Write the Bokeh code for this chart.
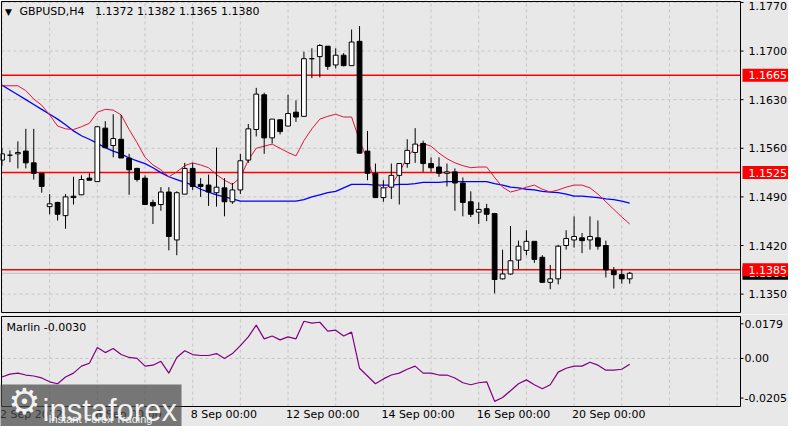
from bokeh.plotting import figure
from bokeh.layouts import column
from bokeh.models import Range1d
from bokeh.core.properties import value
from bokeh.embed import file_html
from bokeh.resources import INLINE

# ---------------- data ----------------
symbol_title = "GBPUSD,H4\u00a0\u00a0 1.1372 1.1382 1.1365 1.1380"
marlin_title = "Marlin -0.0030"

opens = [1.1543, 1.1550, 1.1552, 1.1556, 1.1539, 1.1524, 1.1476, 1.1482, 1.1463, 1.1491,
         1.1493, 1.1517, 1.1512, 1.1589, 1.1564, 1.1573, 1.1546, 1.1531, 1.1517, 1.1482,
         1.1479, 1.1497, 1.1428, 1.1494, 1.1531, 1.1508, 1.1507, 1.1496, 1.1503, 1.1483,
         1.1500, 1.1543, 1.1587, 1.1637, 1.1575, 1.1601, 1.1592, 1.1612, 1.1606, 1.1689,
         1.1692, 1.1707, 1.1680, 1.1694, 1.1679, 1.1714, 1.1556, 1.1524, 1.1489, 1.1504,
         1.1521, 1.1538, 1.1554, 1.1567, 1.1538, 1.1533, 1.1524, 1.1526, 1.1510, 1.1483,
         1.1468, 1.1473, 1.1466, 1.1372, 1.1379, 1.1399, 1.1413, 1.1426, 1.1403, 1.1367,
         1.1372, 1.1420, 1.1428, 1.1431, 1.1428, 1.1431, 1.1420, 1.1384, 1.1378, 1.1372]
highs = [1.1560, 1.1557, 1.1570, 1.1588, 1.1588, 1.1524, 1.1494, 1.1483, 1.1494, 1.1519,
         1.1521, 1.1524, 1.1591, 1.1599, 1.1609, 1.1608, 1.1552, 1.1532, 1.1521, 1.1486,
         1.1504, 1.1504, 1.1498, 1.1539, 1.1539, 1.1517, 1.1522, 1.1561, 1.1517, 1.1510,
         1.1552, 1.1595, 1.1647, 1.1640, 1.1602, 1.1602, 1.1637, 1.1629, 1.1699, 1.1704,
         1.1710, 1.1707, 1.1704, 1.1697, 1.1731, 1.1736, 1.1585, 1.1538, 1.1514, 1.1538,
         1.1538, 1.1573, 1.1589, 1.1571, 1.1547, 1.1547, 1.1538, 1.1531, 1.1518, 1.1498,
         1.1482, 1.1480, 1.1466, 1.1414, 1.1448, 1.1427, 1.1442, 1.1426, 1.1406, 1.1392,
         1.1421, 1.1442, 1.1462, 1.1438, 1.1462, 1.1456, 1.1427, 1.1389, 1.1386, 1.1382]
lows = [1.1535, 1.1540, 1.1531, 1.1531, 1.1515, 1.1496, 1.1465, 1.1456, 1.1444, 1.1479,
        1.1493, 1.1514, 1.1512, 1.1560, 1.1547, 1.1546, 1.1493, 1.1512, 1.1479, 1.1451,
        1.1470, 1.1413, 1.1406, 1.1494, 1.1500, 1.1490, 1.1477, 1.1476, 1.1462, 1.1480,
        1.1494, 1.1539, 1.1577, 1.1552, 1.1567, 1.1580, 1.1592, 1.1598, 1.1606, 1.1661,
        1.1662, 1.1673, 1.1675, 1.1678, 1.1679, 1.1553, 1.1514, 1.1489, 1.1483, 1.1487,
        1.1479, 1.1532, 1.1539, 1.1526, 1.1526, 1.1519, 1.1505, 1.1470, 1.1462, 1.1461,
        1.1451, 1.1455, 1.1351, 1.1371, 1.1378, 1.1386, 1.1406, 1.1395, 1.1367, 1.1357,
        1.1364, 1.1414, 1.1417, 1.1409, 1.1414, 1.1414, 1.1374, 1.1358, 1.1365, 1.1365]
closes = [1.1552, 1.1550, 1.1554, 1.1539, 1.1524, 1.1505, 1.1480, 1.1465, 1.1490, 1.1489,
          1.1515, 1.1514, 1.1591, 1.1561, 1.1574, 1.1546, 1.1529, 1.1515, 1.1479, 1.1477,
          1.1497, 1.1433, 1.1496, 1.1531, 1.1505, 1.1505, 1.1497, 1.1504, 1.1483, 1.1500,
          1.1542, 1.1588, 1.1638, 1.1575, 1.1602, 1.1584, 1.1610, 1.1605, 1.1689, 1.1689,
          1.1708, 1.1678, 1.1694, 1.1679, 1.1713, 1.1553, 1.1524, 1.1489, 1.1503, 1.1521,
          1.1538, 1.1557, 1.1566, 1.1538, 1.1532, 1.1524, 1.1526, 1.1510, 1.1482, 1.1465,
          1.1472, 1.1465, 1.1371, 1.1379, 1.1398, 1.1419, 1.1426, 1.1400, 1.1367, 1.1372,
          1.1419, 1.1430, 1.1433, 1.1427, 1.1433, 1.1419, 1.1385, 1.1378, 1.1372, 1.1380]

ma_red = [1.1650, 1.1650, 1.1650, 1.1643, 1.1631, 1.1622, 1.1608, 1.1592, 1.1588, 1.1587,
          1.1591, 1.1596, 1.1612, 1.1616, 1.1615, 1.1608, 1.1587, 1.1568, 1.1547, 1.1536,
          1.1529, 1.1519, 1.1526, 1.1535, 1.1539, 1.1536, 1.1532, 1.1522, 1.1514, 1.1508,
          1.1518, 1.1543, 1.1560, 1.1563, 1.1566, 1.1560, 1.1554, 1.1549, 1.1571, 1.1588,
          1.1602, 1.1606, 1.1609, 1.1605, 1.1605, 1.1571, 1.1543, 1.1511, 1.1501, 1.1507,
          1.1525, 1.1547, 1.1561, 1.1567, 1.1563, 1.1553, 1.1545, 1.1539, 1.1535, 1.1532,
          1.1533, 1.1533, 1.1518, 1.1504, 1.1497, 1.1500, 1.1504, 1.1507, 1.1501, 1.1497,
          1.1500, 1.1504, 1.1507, 1.1507, 1.1503, 1.1494, 1.1483, 1.1472, 1.1461, 1.1451]
ma_blue = [1.1651, 1.1644, 1.1637, 1.1630, 1.1623, 1.1616, 1.1609, 1.1602, 1.1594, 1.1585,
           1.1578, 1.1573, 1.1567, 1.1561, 1.1556, 1.1552, 1.1546, 1.1542, 1.1538, 1.1532,
           1.1525, 1.1519, 1.1515, 1.1511, 1.1507, 1.1501, 1.1497, 1.1493, 1.1490, 1.1487,
           1.1484, 1.1484, 1.1484, 1.1484, 1.1484, 1.1484, 1.1484, 1.1484, 1.1486, 1.1490,
           1.1493, 1.1496, 1.1498, 1.1503, 1.1508, 1.1508, 1.1508, 1.1507, 1.1507, 1.1507,
           1.1508, 1.1508, 1.1509, 1.1511, 1.1511, 1.1511, 1.1512, 1.1512, 1.1512, 1.1512,
           1.1512, 1.1512, 1.1509, 1.1507, 1.1504, 1.1503, 1.1501, 1.1500, 1.1498, 1.1497,
           1.1496, 1.1494, 1.1491, 1.1491, 1.1490, 1.1489, 1.1487, 1.1486, 1.1484, 1.1481]
marlin = [-0.0096, -0.0081, -0.0076, -0.0086, -0.0091, -0.0101, -0.0121, -0.0131, -0.0096, -0.0076,
          -0.0040, -0.0025, 0.0056, 0.0030, 0.0051, 0.0020, 0.0005, 0.0000, -0.0040, -0.0035,
          -0.0015, -0.0076, 0.0005, 0.0040, 0.0020, 0.0015, 0.0015, 0.0025, 0.0000, 0.0025,
          0.0066, 0.0111, 0.0172, 0.0101, 0.0116, 0.0096, 0.0111, 0.0101, 0.0192, 0.0182,
          0.0187, 0.0141, 0.0146, 0.0116, 0.0136, -0.0051, -0.0091, -0.0131, -0.0106, -0.0086,
          -0.0076, -0.0056, -0.0040, -0.0076, -0.0076, -0.0086, -0.0086, -0.0101, -0.0126, -0.0136,
          -0.0126, -0.0121, -0.0222, -0.0202, -0.0167, -0.0131, -0.0111, -0.0136, -0.0157, -0.0136,
          -0.0071, -0.0051, -0.0040, -0.0040, -0.0020, -0.0035, -0.0061, -0.0061, -0.0056, -0.0030]

levels = [1.1665, 1.1525, 1.1385]
level_labels = ["1.1665", "1.1525", "1.1385"]
bid = [1.1380]
bid_label = ["1.1380"]
price_ticks = [1.1350, 1.1420, 1.1490, 1.1560, 1.1630, 1.1700, 1.1770]
price_labels = ["1.1350", "1.1420", "1.1490", "1.1560", "1.1630", "1.1700", "1.1770"]
marlin_ticks = [0.0179, 0.0, -0.0205]
marlin_labels = ["0.0179", "0.00", "-0.0205"]
date_ticks = [0, 12, 24, 36, 48, 60, 72]
date_labels = ["2 Sep 2022", "6 Sep 00:00", "8 Sep 00:00", "12 Sep 00:00",
               "14 Sep 00:00", "16 Sep 00:00", "20 Sep 00:00"]
grid_x = list(range(0, 91, 6))

# ---------------- geometry / style ----------------
W = 788
H_MAIN, H_LOW = 314, 112
BAR_PX = 7.946                  # pixels per bar
XL = -0.186                     # bar value at the left canvas edge
XR = XL + W / BAR_PX
PT, PPX = 1.17728, 0.000144     # price at top edge, price per pixel
PB = PT - H_MAIN * PPX
VT, VPX = 0.0227, 0.000517      # Marlin value at top edge, value per pixel
VB = VT - H_LOW * VPX


def bx(px):
    return XL + px / BAR_PX


def py(px):
    return PT - px * PPX


def vy(px):
    return VT - px * VPX


X0, X1 = bx(1), bx(740)         # left border / right axis line
BG = "#e8e8e8"
GRID = "#c4c4c4"
FONT = value("DejaVu Sans")
n = len(opens)
idx = list(range(n))
tops = [max(o, c) for o, c in zip(opens, closes)]
bots = [min(o, c) for o, c in zip(opens, closes)]
fills = ["white" if c >= o else "black" for o, c in zip(opens, closes)]


def base_fig(h, yr):
    f = figure(width=W, height=h, x_range=Range1d(XL, XR), y_range=Range1d(*yr),
               x_axis_location=None, y_axis_location=None, toolbar_location=None,
               output_backend="svg", min_border=0, background_fill_color=BG,
               border_fill_color=BG, outline_line_color=None)
    f.xgrid.visible = False
    f.ygrid.visible = False
    return f


def grid(f, top, bot, hticks):
    f.segment(x0=grid_x, y0=[bot] * len(grid_x), x1=grid_x, y1=[top] * len(grid_x),
              line_color=GRID, line_width=1, line_dash="3 3")
    f.segment(x0=[X0] * len(hticks), y0=hticks, x1=[X1] * len(hticks), y1=hticks,
              line_color=GRID, line_width=1, line_dash="3 3")


def borders(f, top, bot, ticks, labels, lab_x, offsets):
    f.segment(x0=[X0, X0, X0, X1], y0=[top, bot, bot, bot], x1=[X1, X1, X0, X1],
              y1=[top, bot, top, top], line_color="black", line_width=1)
    f.segment(x0=[X1] * len(ticks), y0=ticks, x1=[X1 + 3 / BAR_PX] * len(ticks), y1=ticks,
              line_color="black", line_width=1)
    f.text(x=[lab_x] * len(ticks), y=ticks, text=labels, y_offset=offsets, text_font=FONT,
           text_font_size="11px", text_baseline="middle", text_align="left",
           text_color="black")


# ---------------- main panel ----------------
p = base_fig(H_MAIN, (PB, PT))
top_m, bot_m = py(1), py(312)
grid(p, top_m, bot_m, price_ticks)

p.segment(x0=[X0], y0=bid, x1=[X1], y1=bid, line_color="#bdbdbd", line_width=1)
p.segment(x0=[X0] * 3, y0=levels, x1=[X1] * 3, y1=levels, line_color="#ff0000",
          line_width=1.5)

p.line(idx, ma_blue, line_color="#0000ff", line_width=1.3)
p.line(idx, ma_red, line_color="#e0143c", line_width=1)
p.segment(x0=idx, y0=lows, x1=idx, y1=highs, line_color="black", line_width=1)
p.vbar(x=idx, width=0.6, top=tops, bottom=bots, fill_color=fills, line_color="black",
       line_width=1)

# keep the top tick label inside the canvas, as the terminal does
price_off = [4 if py(6) < t else 0 for t in price_ticks]
borders(p, top_m, bot_m, price_ticks, price_labels, bx(748), price_off)

box_x = bx(765)
p.rect(x=[box_x], y=bid, width=46, height=13, width_units="screen", height_units="screen",
       fill_color="black", line_color=None)
p.text(x=[bx(748)], y=bid, text=bid_label, text_font=FONT, text_font_size="11px",
       text_baseline="middle", text_align="left", text_color="white")
p.rect(x=[box_x] * 3, y=levels, width=46, height=13, width_units="screen",
       height_units="screen", fill_color="#ff0000", line_color=None)
p.text(x=[bx(748)] * 3, y=levels, text=level_labels, text_font=FONT, text_font_size="11px",
       text_baseline="middle", text_align="left", text_color="white")

p.text(x=[bx(8)], y=[py(11)], text=["\u25bc"], text_font=FONT, text_font_size="9px",
       text_baseline="middle", text_align="center", text_color="black")
p.text(x=[bx(19)], y=[py(11)], text=[symbol_title], text_font=FONT, text_font_size="11px",
       text_baseline="middle", text_align="left", text_color="black")

# ---------------- Marlin panel ----------------
q = base_fig(H_LOW, (VB, VT))
top_l, bot_l = vy(2), vy(92)
grid(q, top_l, bot_l, [0.0])
q.line(idx, marlin, line_color="#800080", line_width=1.2)
borders(q, top_l, bot_l, marlin_ticks, marlin_labels, bx(744), [0] * len(marlin_ticks))
q.text(x=[bx(6)], y=[vy(13)], text=[marlin_title], text_font=FONT, text_font_size="11px",
       text_baseline="middle", text_align="left", text_color="black")
q.text(x=date_ticks, y=[vy(100)] * len(date_ticks), text=date_labels, text_font=FONT,
       text_font_size="11px", text_baseline="middle", text_align="left",
       text_color="black", x_offset=-2)

# watermark
q.quad(left=[bx(-2)], right=[bx(181)], top=[vy(70)], bottom=[vy(114)],
       fill_color="#4a4a4a", fill_alpha=0.72, line_color=None)
q.text(x=[bx(24)], y=[vy(87)], text=["\u2699"], text_font=FONT, text_font_size="36px",
       text_baseline="middle", text_align="center", text_color="#f2f2f2")
q.text(x=[bx(42)], y=[vy(96)], text=["instaforex"], text_font=value("Liberation Sans"),
       text_font_size="31px", text_baseline="alphabetic", text_align="left",
       text_color="#f2f2f2")
q.text(x=[bx(48)], y=[vy(104)], text=["Instant Forex Trading"],
       text_font=value("Liberation Sans"), text_font_size="11px", text_baseline="middle",
       text_align="left", text_color="#f0f0f0")

layout = column(p, q, spacing=0)
open("out.html", "w").write(file_html(layout, INLINE))
